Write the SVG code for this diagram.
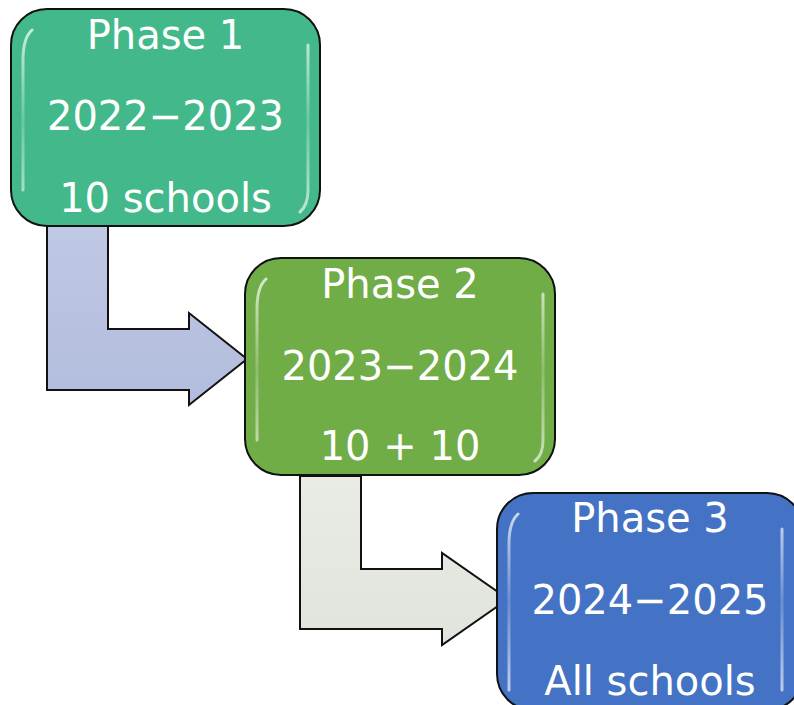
<svg xmlns="http://www.w3.org/2000/svg" width="794" height="705" viewBox="0 0 794 705">
<defs>
<style>
.box{stroke:#111;stroke-width:2}
.arrow{stroke:#111;stroke-width:2;stroke-linejoin:miter}
.t{font-family:"DejaVu Sans",Verdana,sans-serif;font-size:40px;fill:#fff;text-anchor:middle}
.hl{fill:none;stroke:url(#hlg);stroke-width:3;stroke-linecap:round;opacity:0.8}
</style>
<linearGradient id="hlg" x1="0" y1="0" x2="0" y2="1">
<stop offset="0" stop-color="#fff" stop-opacity="0.9"/>
<stop offset="0.5" stop-color="#fff" stop-opacity="0.25"/>
<stop offset="1" stop-color="#fff" stop-opacity="0.8"/>
</linearGradient>
<linearGradient id="a1" x1="0" y1="0" x2="0" y2="1">
<stop offset="0" stop-color="#bfc8e4"/>
<stop offset="1" stop-color="#b2bcdc"/>
</linearGradient>
<linearGradient id="a2" x1="0" y1="0" x2="0" y2="1">
<stop offset="0" stop-color="#e8ece5"/>
<stop offset="1" stop-color="#dfe4dc"/>
</linearGradient>
</defs>
<g id="connectors">
<path class="arrow" fill="url(#a1)" d="M47,226 L108,226 L108,329 L189,329 L189,313 L247,359 L189,405 L189,390 L47,390 Z"/>
<path class="arrow" fill="url(#a2)" d="M300,476 L361,476 L361,569 L442,569 L442,553 L508,599 L442,645 L442,629 L300,629 Z"/>
</g>
<g id="phase1">
<rect class="box" x="11" y="9" width="309" height="217" rx="36" fill="#43b98b"/>
<path class="hl" d="M32,30 Q23,38 23,60 L23,190 M308,45 L308,190 Q308,205 300,212"/>
<text class="t" x="165.5" y="49">Phase 1</text>
<text class="t" x="165.5" y="130">2022−2023</text>
<text class="t" x="165.5" y="212">10 schools</text>
</g>
<g id="phase2">
<rect class="box" x="245" y="258" width="310" height="217" rx="36" fill="#70ad47"/>
<path class="hl" d="M266,279 Q257,287 257,309 L257,440 M543,294 L543,440 Q543,455 535,461"/>
<text class="t" x="400" y="298">Phase 2</text>
<text class="t" x="400" y="380">2023−2024</text>
<text class="t" x="400" y="460">10 + 10</text>
</g>
<g id="phase3">
<rect class="box" x="497" y="493" width="306" height="217" rx="36" fill="#4472c4"/>
<path class="hl" d="M518,514 Q509,522 509,544 L509,690 M782,529 L782,690"/>
<text class="t" x="650" y="532">Phase 3</text>
<text class="t" x="650" y="614">2024−2025</text>
<text class="t" x="650" y="695">All schools</text>
</g>
</svg>
